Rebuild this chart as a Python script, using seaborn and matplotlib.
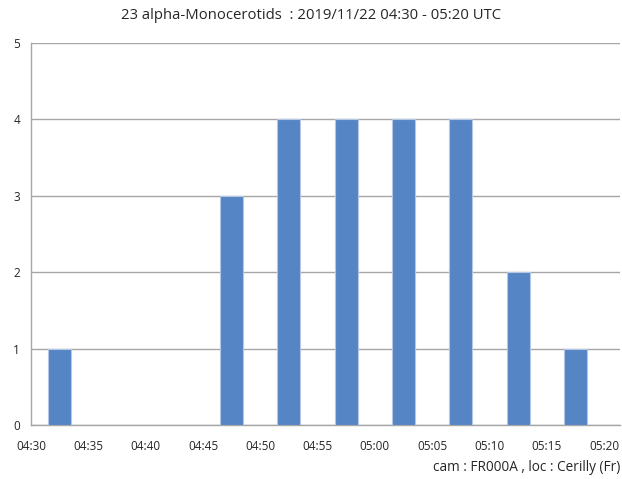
import matplotlib
matplotlib.use('Agg')
import matplotlib.pyplot as plt
import seaborn as sns
import pandas as pd

# 5-minute bins starting at 04:30 UTC
bin_labels = ["04:30", "04:35", "04:40", "04:45", "04:50", "04:55", "05:00", "05:05", "05:10", "05:15"]
counts = [1, 0, 0, 3, 4, 4, 4, 4, 2, 1]
tick_labels = ["04:30", "04:35", "04:40", "04:45", "04:50", "04:55", "05:00", "05:05", "05:10", "05:15", "05:20"]

title = "23 alpha-Monocerotids  : 2019/11/22 04:30 - 05:20 UTC"
footer = "cam : FR000A , loc : Cerilly (Fr)"

sns.set_style("white")
plt.rcParams['font.family'] = ['Open Sans', 'DejaVu Sans']

# bar centre in minutes after 04:30
df = pd.DataFrame({"minute": [5 * i + 2.5 for i in range(len(bin_labels))], "count": counts})

fig = plt.figure(figsize=(6.22, 4.79), dpi=100)
ax = fig.add_axes([0.05, 0.113, 0.947, 0.797])

sns.barplot(data=df, x="minute", y="count", native_scale=True, width=0.4,
            color="#5585c5", saturation=1, ax=ax, zorder=3, errorbar=None,
            edgecolor="#b4c8e6", linewidth=0.8)
# no outline on empty bins
for p in ax.patches:
    if p.get_height() == 0:
        p.set_linewidth(0)

ax.set_xlim(0, 51.4)
ax.set_ylim(0, 5)
ax.set_xticks([5 * i for i in range(len(tick_labels))])
ax.set_xticklabels(tick_labels)
ax.set_yticks(range(6))
ax.set_xlabel("")
ax.set_ylabel("")

ax.grid(axis="y", color="#a6a6a6", linewidth=1, zorder=0)
ax.grid(axis="x", visible=False)
for s in ["top", "right"]:
    ax.spines[s].set_visible(False)
for s in ["left", "bottom"]:
    ax.spines[s].set_color("#a6a6a6")
    ax.spines[s].set_linewidth(1)
ax.tick_params(axis="both", which="both", direction="out", length=5, width=1,
               color="#a6a6a6", labelsize=8.5, labelcolor="#262626", pad=3)
ax.tick_params(axis="x", pad=6)

fig.text(0.5, 0.967, title, ha="center", va="center", fontsize=10.7, color="#262626")
fig.text(0.997, 0.025, footer, ha="right", va="center", fontsize=9.8, color="#262626")

plt.savefig("out.png", dpi=100)
plt.close()
